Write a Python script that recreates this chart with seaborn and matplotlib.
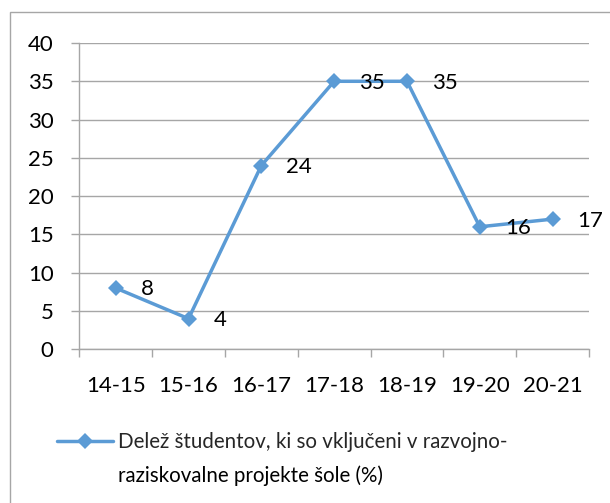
import matplotlib
matplotlib.use("Agg")
import matplotlib.pyplot as plt
import seaborn as sns
import pandas as pd
from matplotlib.patches import Rectangle

# chart data
years = ['14-15', '15-16', '16-17', '17-18', '18-19', '19-20', '20-21']
share = [8, 4, 24, 35, 35, 16, 17]
label_line1 = 'Delež študentov, ki so vključeni v razvojno-'
label_line2 = 'raziskovalne projekte šole (%)'
y_ticks = [0, 5, 10, 15, 20, 25, 30, 35, 40]

BLUE = '#5B9BD5'
GRID = '#A6A6A6'

sns.set_theme(style='white')
plt.rcParams['font.family'] = ['Lato', 'DejaVu Sans']

df = pd.DataFrame({'year': years, 'share': share})

W, H = 610, 503
fig = plt.figure(figsize=(W / 100, H / 100), dpi=100)
ax = fig.add_axes([79.3 / W, 1 - 349.3 / H, (589 - 79.3) / W, (349.3 - 43) / H])

sns.lineplot(data=df, x='year', y='share', ax=ax, color=BLUE, linewidth=2.5,
             marker='D', markersize=8, markeredgewidth=0, label=label_line1,
             sort=False)

ax.set_xlim(-0.5, len(years) - 0.5)
ax.set_ylim(0, 40)
ax.set_yticks(y_ticks)
ax.set_yticklabels([str(t) for t in y_ticks])
ax.set_xlabel('')
ax.set_ylabel('')

# horizontal gridlines only
ax.yaxis.grid(True, color=GRID, linewidth=1.0)
ax.xaxis.grid(False)
for side in ['top', 'right']:
    ax.spines[side].set_visible(False)
for side in ['left', 'bottom']:
    ax.spines[side].set_color(GRID)
    ax.spines[side].set_linewidth(1.0)

# category ticks sit between the categories
ax.set_xticks([i - 0.5 for i in range(len(years) + 1)], minor=True)
ax.tick_params(axis='x', which='minor', length=6, width=1.0, color=GRID, direction='out', bottom=True)
ax.tick_params(axis='x', which='major', length=0, labelsize=16, pad=19, colors='black')
ax.tick_params(axis='y', which='major', length=6, width=1.0, color=GRID, direction='out',
               labelsize=16, pad=12.5, left=True, labelcolor='black')

for i, v in enumerate(share):
    ax.annotate(str(v), (i, v), xytext=(18, -1), textcoords='offset points',
                ha='left', va='center', fontsize=16, color='black')

leg = ax.legend(loc='center left', bbox_to_anchor=(57 / W, 1 - 442 / H),
                bbox_transform=fig.transFigure, frameon=False, fontsize=14.8,
                handlelength=2.7, handletextpad=0.25, borderaxespad=0, borderpad=0)

# second line of the legend text, aligned to the first
fig.canvas.draw()
bb = leg.get_texts()[0].get_window_extent()
fig.text(bb.x0 / W, 1 - 482 / H, label_line2, ha='left', va='baseline',
         fontsize=14.8, color='black')

# outer chart border (cut at right/bottom like the reference)
fig.patches.append(Rectangle((9.5 / W, -0.1), 1.2, 1 - 12 / H + 0.1,
                             transform=fig.transFigure, fill=False,
                             edgecolor=GRID, linewidth=1.0))

fig.savefig('out.png', dpi=100)
